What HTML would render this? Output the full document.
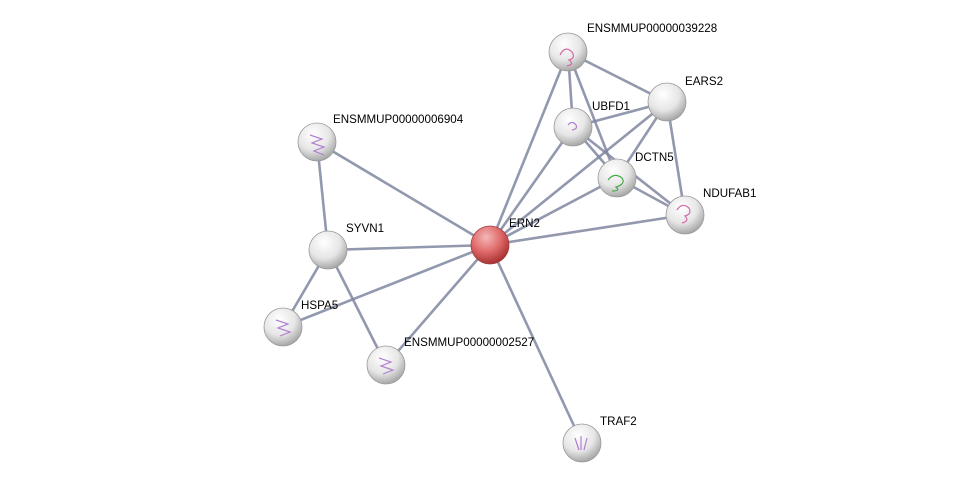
<!DOCTYPE html>
<html><head><meta charset="utf-8"><style>
html,body{margin:0;padding:0;background:#fff;width:975px;height:489px;overflow:hidden}
text{font-family:"Liberation Sans",sans-serif;font-size:11.6px;fill:#000}
</style></head><body>
<svg width="975" height="489" xmlns="http://www.w3.org/2000/svg">
<defs>
<radialGradient id="g" cx="40%" cy="30%" r="70%">
<stop offset="0" stop-color="#ffffff"/><stop offset="0.6" stop-color="#e6e6e6"/><stop offset="1" stop-color="#a8a8a8"/>
</radialGradient>
<radialGradient id="r" cx="40%" cy="30%" r="70%">
<stop offset="0" stop-color="#f4b8b8"/><stop offset="0.55" stop-color="#e06a6a"/><stop offset="1" stop-color="#a83232"/>
</radialGradient>
</defs>
<g stroke="#7f86a0" stroke-width="2.6" stroke-opacity="0.85">
<line x1="490" y1="245" x2="568" y2="52"/>
<line x1="490" y1="245" x2="573" y2="127"/>
<line x1="490" y1="245" x2="667" y2="102"/>
<line x1="490" y1="245" x2="617" y2="178"/>
<line x1="490" y1="245" x2="685" y2="215"/>
<line x1="490" y1="245" x2="317" y2="142"/>
<line x1="490" y1="245" x2="328" y2="250"/>
<line x1="490" y1="245" x2="283" y2="327"/>
<line x1="490" y1="245" x2="386" y2="365"/>
<line x1="490" y1="245" x2="582" y2="443"/>
<line x1="317" y1="142" x2="328" y2="250"/>
<line x1="328" y1="250" x2="283" y2="327"/>
<line x1="328" y1="250" x2="386" y2="365"/>
<line x1="568" y1="52" x2="573" y2="127"/>
<line x1="568" y1="52" x2="617" y2="178"/>
<line x1="568" y1="52" x2="667" y2="102"/>
<line x1="573" y1="127" x2="667" y2="102"/>
<line x1="573" y1="127" x2="617" y2="178"/>
<line x1="573" y1="127" x2="685" y2="215"/>
<line x1="667" y1="102" x2="617" y2="178"/>
<line x1="667" y1="102" x2="685" y2="215"/>
<line x1="617" y1="178" x2="685" y2="215"/>
</g>
<g stroke="#9a9a9a" stroke-width="0.8">
<circle cx="568" cy="52" r="19" fill="url(#g)"/>
<circle cx="667" cy="102" r="19" fill="url(#g)"/>
<circle cx="573" cy="127" r="19" fill="url(#g)"/>
<circle cx="617" cy="178" r="19" fill="url(#g)"/>
<circle cx="685" cy="215" r="19" fill="url(#g)"/>
<circle cx="317" cy="142" r="19" fill="url(#g)"/>
<circle cx="328" cy="250" r="19" fill="url(#g)"/>
<circle cx="283" cy="327" r="19" fill="url(#g)"/>
<circle cx="386" cy="365" r="19" fill="url(#g)"/>
<circle cx="582" cy="443" r="19" fill="url(#g)"/>
<circle cx="490" cy="245" r="19" fill="url(#r)" stroke="#a04040"/>
</g>
<g fill="none" stroke-width="1.2">
<path d="M560 55 q5 -10 12 -3 q4 6 -3 8 q6 4 -2 6" stroke="#d46aa8"/>
<path d="M677 210 q5 -8 12 -2 q3 6 -4 8 q5 5 -3 7" stroke="#d46aa8"/>
<path d="M608 180 q6 -8 14 -2 q4 6 -6 9 q5 4 -4 4" stroke="#4aaa4a"/>
<path d="M568 125 q4 -5 8 0 q2 4 -4 5" stroke="#b080d0"/>
<path d="M310 135 l12 4 l-10 4 l12 4 l-10 4 l10 4" stroke="#b080d0"/>
<path d="M276 320 l12 4 l-10 4 l12 4 l-10 4" stroke="#b080d0"/>
<path d="M379 358 l12 4 l-10 4 l12 4 l-10 4" stroke="#b080d0"/>
<path d="M575 438 l4 12 M581 436 l0 14 M587 438 l-3 12" stroke="#b080d0"/>
</g>
<text x="587" y="32">ENSMMUP00000039228</text>
<text x="685" y="85">EARS2</text>
<text x="592" y="110">UBFD1</text>
<text x="635" y="161">DCTN5</text>
<text x="703" y="197">NDUFAB1</text>
<text x="333" y="123">ENSMMUP00000006904</text>
<text x="346" y="232">SYVN1</text>
<text x="301" y="309">HSPA5</text>
<text x="404" y="346">ENSMMUP00000002527</text>
<text x="600" y="425">TRAF2</text>
<text x="509" y="227">ERN2</text>
</svg>
</body></html>
